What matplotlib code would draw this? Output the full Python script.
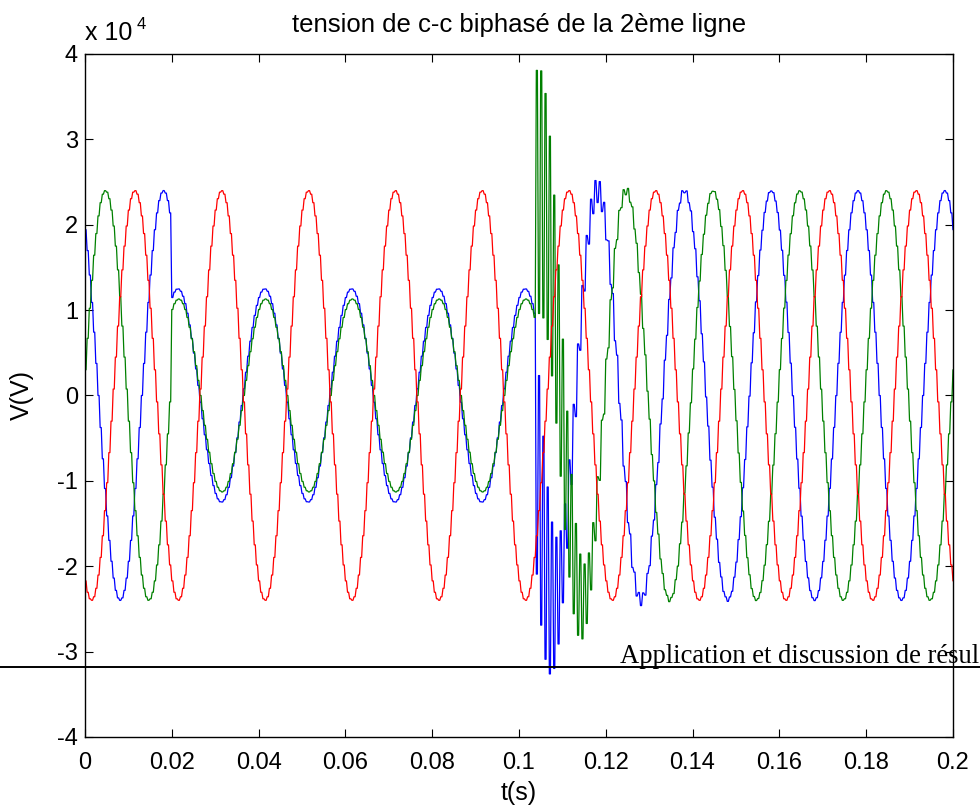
import numpy as np
import matplotlib.pyplot as plt
from matplotlib.lines import Line2D

# simulation time base (s)
t_start, t_stop, t_step = 0.0, 0.2, 0.0005
freq = 50.0
hold = 0.5           # part of a sample during which the output stays flat

# phases in plotting order: blue, green, red
colors = ['#0000ff', '#008000', '#ff0000']
# healthy network: crest value (x 10^4 V) and time of one crest (s)
amp_healthy = [2.4, 2.4, 2.4]
crest_healthy = [0.0180, 0.0046, 0.0114]
# two-phase short circuit between t_fault and t_clear
t_fault, t_clear = 0.0199, 0.1040
amp_fault = [1.25, 1.13, 2.4]
crest_fault = [0.0213, 0.0215, 0.0114]
# numerical ringing after clearing (sign flips every sample):
# slow exponential tail + fast bell shaped burst
ring_tail_amp = [-0.45, 0.2, 0.0]
ring_tail_tau = [0.012, 0.012, 0.012]
ring_burst_amp = [-0.9, 1.25, 0.0]
ring_burst_width = [0.005, 0.0095, 0.005]

x_ticks = [0, 0.02, 0.04, 0.06, 0.08, 0.1, 0.12, 0.14, 0.16, 0.18, 0.2]
x_labels = ['0', '0.02', '0.04', '0.06', '0.08', '0.1', '0.12', '0.14', '0.16', '0.18', '0.2']
y_ticks = [-4, -3, -2, -1, 0, 1, 2, 3, 4]
y_labels = ['-4', '-3', '-2', '-1', '0', '1', '2', '3', '4']

plt.rcParams['font.family'] = ['Liberation Sans', 'DejaVu Sans']
plt.rcParams['axes.unicode_minus'] = False

t = np.arange(t_start, t_stop + t_step / 2, t_step)
n = np.arange(len(t))
w = 2 * np.pi * freq

fig = plt.figure(figsize=(9.8, 8.09), dpi=100)
ax = fig.add_axes([0.0867, 0.089, 0.8857, 0.8443])

for k in range(3):
    v = amp_healthy[k] * np.cos(w * (t - crest_healthy[k]))
    during = (t >= t_fault) & (t < t_clear)
    v[during] = amp_fault[k] * np.cos(w * (t[during] - crest_fault[k]))
    after = t >= t_clear
    dt_after = t[after] - t_clear
    env = (ring_tail_amp[k] * np.exp(-dt_after / ring_tail_tau[k])
           + ring_burst_amp[k] * np.exp(-(dt_after / ring_burst_width[k]) ** 2))
    v[after] = v[after] + env * (-1.0) ** (n[after] - n[after][0])
    # sample and hold look: flat part then a steep ramp to the next sample
    tt = np.column_stack([t, t + hold * t_step]).ravel()
    vv = np.column_stack([v, v]).ravel()
    ax.plot(tt, vv, color=colors[k], lw=0.9)

ax.set_xlim(0, 0.2)
ax.set_ylim(-4, 4)
ax.set_xticks(x_ticks)
ax.set_xticklabels(x_labels)
ax.set_yticks(y_ticks)
ax.set_yticklabels(y_labels)
ax.tick_params(direction='in', length=6, width=0.8, labelsize=17, pad=5,
               top=True, right=True)
ax.tick_params(axis='x', pad=10.5)
for s in ax.spines.values():
    s.set_linewidth(1.0)

ax.set_xlabel('t(s)', fontsize=18, labelpad=5)
ax.set_ylabel('V(V)', fontsize=18, labelpad=17)

# MATLAB style exponent and title
fig.text(85 / 980, 1 - 40 / 809, 'x 10', fontsize=18, va='baseline')
fig.text(137 / 980, 1 - 29 / 809, '4', fontsize=12, va='baseline')
fig.text(519 / 980, 1 - 32 / 809, 'tension de c-c biphasé de la 2ème ligne',
         fontsize=18.5, ha='center', va='baseline')

# page header of the source document printed across the figure
fig.add_artist(Line2D([0, 1], [1 - 667 / 809, 1 - 667 / 809], color='black',
                      lw=1.4, transform=fig.transFigure))
fig.text(979 / 980, 1 - 663 / 809, 'Application et discussion de résul',
         fontsize=19.2, family='Liberation Serif', ha='right', va='baseline')

fig.savefig('out.png', dpi=100)
